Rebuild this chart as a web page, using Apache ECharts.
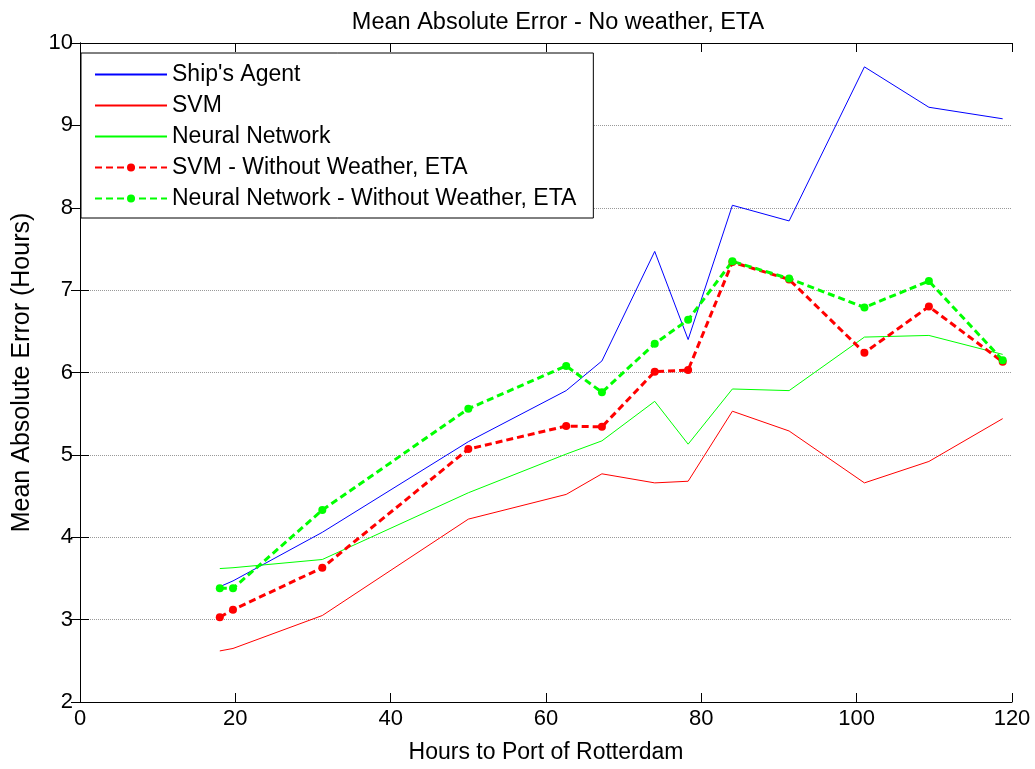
<!DOCTYPE html>
<html>
<head>
<meta charset="utf-8">
<script src="https://cdn.jsdelivr.net/npm/echarts@6/dist/echarts.min.js"></script>
<style>
html,body{margin:0;padding:0;background:#fff;}
#chart{width:1035px;height:769px;}
</style>
</head>
<body>
<div id="chart"></div>
<script>
// Data
var hours = [18, 19.7, 31.2, 50, 62.6, 67.2, 74, 78.3, 84, 91.3, 101, 109.3, 118.8];
var shipsAgent = [3.40, 3.47, 4.06, 5.16, 5.78, 6.14, 7.47, 6.40, 8.03, 7.84, 9.71, 9.22, 9.08];
var svm = [2.62, 2.65, 3.05, 4.22, 4.52, 4.77, 4.66, 4.68, 5.53, 5.29, 4.66, 4.92, 5.44];
var neuralNetwork = [3.62, 3.63, 3.73, 4.54, 5.01, 5.17, 5.65, 5.13, 5.80, 5.78, 6.43, 6.45, 6.22];
var svmNoWeather = [3.03, 3.12, 3.63, 5.07, 5.35, 5.34, 6.01, 6.03, 7.34, 7.13, 6.24, 6.80, 6.13];
var nnNoWeather = [3.38, 3.38, 4.33, 5.56, 6.08, 5.76, 6.35, 6.64, 7.35, 7.14, 6.79, 7.11, 6.15];
var seriesNames = ["Ship's Agent", "SVM", "Neural Network", "SVM - Without Weather, ETA", "Neural Network - Without Weather, ETA"];
var seriesColors = ['#0000ff', '#ff0000', '#00ff00', '#ff0000', '#00ff00'];
var xTicks = [0, 20, 40, 60, 80, 100, 120];
var yTicks = [2, 3, 4, 5, 6, 7, 8, 9, 10];

function pairs(ys) { return hours.map(function (h, i) { return [h, ys[i]]; }); }

var FONT = 'Liberation Sans, Arial, sans-serif';
var chart = echarts.init(document.getElementById('chart'), null, {renderer: 'canvas'});

function thin(name, ys, color) {
  return {
    name: name, type: 'line', data: pairs(ys), symbol: 'none', showSymbol: false,
    lineStyle: {color: color, width: 1}, itemStyle: {color: color},
    xAxisIndex: 0, yAxisIndex: 0, z: 2
  };
}
function dashed(name, ys, color) {
  return {
    name: name, type: 'line', data: pairs(ys), symbol: 'circle', symbolSize: 8, showSymbol: true,
    lineStyle: {color: color, width: 3, type: [7, 4]}, itemStyle: {color: color},
    xAxisIndex: 0, yAxisIndex: 0, z: 3
  };
}

var axisLineStyle = {show: true, lineStyle: {color: '#000', width: 1}};
var tickStyle = {show: true, inside: true, length: 9, lineStyle: {color: '#000', width: 1}};

var legendData = seriesNames.map(function (n, i) {
  if (i < 3) {
    return {name: n, itemStyle: {opacity: 0}};
  }
  return {name: n};
});

chart.setOption({
  animation: false,
  backgroundColor: '#fff',
  title: {
    text: 'Mean Absolute Error - No weather, ETA',
    left: 553, textAlign: 'center', top: 6,
    textStyle: {fontFamily: FONT, fontSize: 23.5, fontWeight: 'normal', color: '#000'}
  },
  grid: {left: 80, right: 23, top: 43, bottom: 65, containLabel: false},
  legend: {
    orient: 'vertical', left: 81, top: 53,
    data: legendData,
    backgroundColor: '#fff', borderColor: '#000', borderWidth: 1,
    padding: [10, 17, 8, 13], itemGap: 8,
    itemWidth: 72, itemHeight: 10,
    textStyle: {fontFamily: FONT, fontSize: 23, color: '#000'},
    z: 10
  },
  xAxis: [{
    type: 'value', min: xTicks[0], max: xTicks[xTicks.length - 1], interval: 20, position: 'bottom',
    axisLine: axisLineStyle, axisTick: tickStyle,
    axisLabel: {fontFamily: FONT, fontSize: 22, color: '#000', margin: 6},
    splitLine: {show: false},
    name: 'Hours to Port of Rotterdam', nameLocation: 'middle', nameGap: 39,
    nameTextStyle: {fontFamily: FONT, fontSize: 23, color: '#000'}
  }, {
    type: 'value', min: xTicks[0], max: xTicks[xTicks.length - 1], interval: 20, position: 'top',
    axisLine: axisLineStyle, axisTick: tickStyle, axisLabel: {show: false}, splitLine: {show: false}
  }],
  yAxis: [{
    type: 'value', min: yTicks[0], max: yTicks[yTicks.length - 1], interval: 1, position: 'left',
    axisLine: axisLineStyle, axisTick: tickStyle,
    axisLabel: {fontFamily: FONT, fontSize: 22, color: '#000', margin: 7},
    splitLine: {show: true, lineStyle: {color: '#999', width: 1, type: [1, 1]}},
    name: 'Mean Absolute Error (Hours)', nameLocation: 'middle', nameGap: 45, nameRotate: 90,
    nameTextStyle: {fontFamily: FONT, fontSize: 25, color: '#000'}
  }, {
    type: 'value', min: yTicks[0], max: yTicks[yTicks.length - 1], interval: 1, position: 'right',
    axisLine: axisLineStyle, axisTick: tickStyle, axisLabel: {show: false}, splitLine: {show: false}
  }],
  series: [
    thin(seriesNames[0], shipsAgent, seriesColors[0]),
    thin(seriesNames[1], svm, seriesColors[1]),
    thin(seriesNames[2], neuralNetwork, seriesColors[2]),
    dashed(seriesNames[3], svmNoWeather, seriesColors[3]),
    dashed(seriesNames[4], nnNoWeather, seriesColors[4])
  ]
});
</script>
</body>
</html>
